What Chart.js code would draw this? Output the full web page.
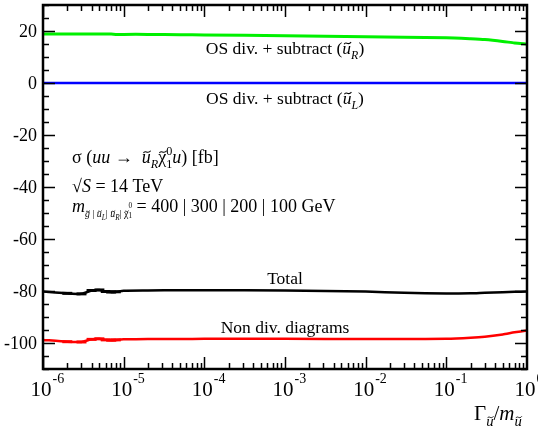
<!DOCTYPE html>
<html>
<head>
<meta charset="utf-8">
<script src="https://cdn.jsdelivr.net/npm/chart.js@4"></script>
<style>
  html, body { margin: 0; padding: 0; background: #fff; }
  #wrap { width: 538px; height: 429px; }
</style>
</head>
<body>
<div id="wrap"><canvas id="c"></canvas></div>
<script>
// Gamma / m values (x) and cross sections in fb
const widths = [1e-6, 2e-6, 3e-6, 4e-6, 5e-6, 6e-6, 7e-6, 8e-6, 1e-5, 2e-5, 5e-5, 1e-4, 1e-3, 1e-2, 3e-2, 0.1, 0.2, 0.3, 0.5, 0.7, 1]
const osSubR = [18.8, 18.8, 18.8, 18.8, 18.8, 18.8, 18.8, 18.7, 18.7, 18.7, 18.6, 18.5, 18.2, 17.8, 17.6, 17.4, 17.0, 16.7, 16.0, 15.4, 15.0]
const osSubL = [0, 0, 0, 0, 0, 0, 0, 0, 0, 0, 0, 0, 0, 0, 0, 0, 0, 0, 0, 0, 0]
const total = [-80.2, -80.9, -81.1, -79.8, -79.6, -80.2, -80.4, -80.3, -79.9, -79.8, -79.7, -79.7, -79.8, -80.2, -80.7, -81.0, -80.9, -80.7, -80.5, -80.3, -80.2]
const nonDiv = [-98.8, -99.5, -99.6, -98.6, -98.4, -98.8, -98.9, -98.8, -98.6, -98.5, -98.5, -98.4, -98.4, -98.5, -98.5, -98.4, -98.0, -97.6, -96.7, -95.9, -95.2]
// scan points that carry error bars
const errMark = [0, 5, 5, 5, 5, 5, 5, 5, 0, 0, 0, 0, 0, 0, 0, 0, 0, 0, 0, 0, 0]

const yTicks = [-100, -80, -60, -40, -20, 0, 20]
const xExponents = [-6, -5, -4, -3, -2, -1, 0]

const SERIF = '"Liberation Serif", "DejaVu Serif", serif'

const toPts = ys => widths.map((w, i) => ({ x: w, y: ys[i] }))

// draw a run of text pieces: s = style flags (i italic, b sub, p sup), k = keep x, tl = tilde on top
function rich(ctx, x, y, parts, size, align) {
  const sizeFor = p => (p.s && (p.s.includes('b') || p.s.includes('p'))) ? size * (p.z || 0.68) : size
  const fontFor = p => (p.s && p.s.includes('i') ? 'italic ' : '') + sizeFor(p).toFixed(1) + 'px ' + SERIF
  let w = 0
  parts.forEach(p => { ctx.font = fontFor(p); if (!p.k) w += ctx.measureText(p.t).width })
  let cx = align === 'center' ? x - w / 2 : x
  ctx.textAlign = 'left'
  ctx.textBaseline = 'alphabetic'
  parts.forEach(p => {
    ctx.font = fontFor(p)
    let dy = p.dy || 0
    if (p.s && p.s.includes('b')) dy += size * 0.3
    if (p.s && p.s.includes('p')) dy -= size * 0.42
    ctx.fillText(p.t, cx, y + dy)
    const tw = ctx.measureText(p.t).width
    if (p.tl) {
      const sz = sizeFor(p)
      const tx = cx + tw * 0.5 + sz * 0.05, ty = y + dy - sz * 0.62
      const hw = sz * 0.2, hh = sz * 0.06
      ctx.save()
      ctx.lineWidth = Math.max(0.8, sz * 0.06)
      ctx.strokeStyle = ctx.fillStyle
      ctx.beginPath()
      ctx.moveTo(tx - hw, ty + hh)
      ctx.bezierCurveTo(tx - hw * 0.5, ty - hh * 2.5, tx + hw * 0.1, ty + hh * 3, tx + hw, ty - hh)
      ctx.stroke()
      ctx.restore()
    }
    if (!p.k) cx += tw
  })
}

const framePlugin = {
  id: 'frame',
  afterDraw(chart) {
    const ctx = chart.ctx
    const a = chart.chartArea
    const xs = chart.scales.x, ys = chart.scales.y
    ctx.save()
    ctx.strokeStyle = '#000'
    ctx.fillStyle = '#000'

    // ticks on all four sides, pointing inwards
    ctx.lineWidth = 1.5
    ctx.beginPath()
    for (let v = -110; v <= 30; v += 5) {
      const py = Math.round(ys.getPixelForValue(v)) + 0.5
      const len = v % 20 === 0 ? 12 : 6
      ctx.moveTo(a.left, py); ctx.lineTo(a.left + len, py)
      ctx.moveTo(a.right, py); ctx.lineTo(a.right - len, py)
    }
    for (let e = -6; e < 0; e++) {
      for (let m = 1; m <= 9; m++) {
        const px = Math.round(xs.getPixelForValue(m * Math.pow(10, e))) + 0.5
        const len = m === 1 ? 12 : 6
        ctx.moveTo(px, a.bottom); ctx.lineTo(px, a.bottom - len)
        ctx.moveTo(px, a.top); ctx.lineTo(px, a.top + len)
      }
    }
    ctx.stroke()

    ctx.lineWidth = 2.5
    ctx.strokeRect(a.left, a.top, a.right - a.left, a.bottom - a.top)

    // y tick labels
    ctx.font = '18px ' + SERIF
    ctx.textAlign = 'right'
    ctx.textBaseline = 'middle'
    yTicks.forEach(v => ctx.fillText(String(v), a.left - 6, ys.getPixelForValue(v) + 1))

    // x tick labels 10^n
    xExponents.forEach(e => {
      const px = xs.getPixelForValue(Math.pow(10, e))
      ctx.font = '21px ' + SERIF
      ctx.textAlign = 'left'
      ctx.textBaseline = 'alphabetic'
      const w = ctx.measureText('10').width
      ctx.fillText('10', px - w / 2 - 2, 396)
      ctx.font = '14px ' + SERIF
      ctx.fillText(String(e), px + w / 2 - 1, 383)
    })

    // axis title
    rich(ctx, 474, 420, [
      { t: 'Γ' },
      { t: 'u', s: 'ib', z: 0.7, tl: true },
      { t: '/' },
      { t: 'm', s: 'i' },
      { t: 'u', s: 'ib', z: 0.7, tl: true }
    ], 21, 'left')

    // curve labels
    const lx = 285
    rich(ctx, lx, 54, [{ t: 'OS div. + subtract (' }, { t: 'u', s: 'i', tl: true }, { t: 'R', s: 'ib' }, { t: ')' }], 17.5, 'center')
    rich(ctx, lx, 104, [{ t: 'OS div. + subtract (' }, { t: 'u', s: 'i', tl: true }, { t: 'L', s: 'ib' }, { t: ')' }], 17.5, 'center')
    rich(ctx, lx, 284, [{ t: 'Total' }], 17.5, 'center')
    rich(ctx, lx, 333, [{ t: 'Non div. diagrams' }], 17.5, 'center')

    // process annotation
    rich(ctx, 72, 163, [
      { t: 'σ (' }, { t: 'uu', s: 'i' }, { t: ' →  ' },
      { t: 'u', s: 'i', tl: true }, { t: 'R', s: 'ib' }, { t: 'χ', tl: true },
      { t: '0', s: 'p', k: true }, { t: '1', s: 'b' },
      { t: 'u', s: 'i' }, { t: ') [fb]' }
    ], 18, 'left')
    rich(ctx, 72, 192, [{ t: '√' }, { t: 'S', s: 'i' }, { t: ' = 14 TeV' }], 18, 'left')
    rich(ctx, 72, 212, [
      { t: 'm', s: 'i' },
      { t: 'g', s: 'ib', z: 0.55, tl: true },
      { t: ' | ', s: 'b', z: 0.55 },
      { t: 'u', s: 'ib', z: 0.55, tl: true },
      { t: 'L', s: 'ib', z: 0.4, dy: 3 },
      { t: '| ', s: 'b', z: 0.55 },
      { t: 'u', s: 'ib', z: 0.55, tl: true },
      { t: 'R', s: 'ib', z: 0.4, dy: 3 },
      { t: '| ', s: 'b', z: 0.55 },
      { t: 'χ', s: 'b', z: 0.55, tl: true },
      { t: '0', s: 'b', z: 0.4, dy: -9, k: true },
      { t: '1', s: 'b', z: 0.4, dy: 1 },
      { t: ' = 400 | 300 | 200 | 100 GeV' }
    ], 18, 'left')

    ctx.restore()
  }
}

const line = (data, color, width, marks) => ({
  data: toPts(data),
  borderColor: color,
  backgroundColor: color,
  borderWidth: width,
  pointStyle: 'line',
  pointRadius: marks || 0,
  pointBorderWidth: 3,
  pointBorderColor: color,
  pointHoverRadius: 0,
  tension: 0.2,
  fill: false
})

new Chart(document.getElementById('c'), {
  type: 'line',
  data: {
    datasets: [
      line(osSubR, '#00f000', 3),
      line(osSubL, '#0000ff', 2.5),
      line(total, '#000000', 2.5, errMark),
      line(nonDiv, '#ff0000', 2.5, errMark)
    ]
  },
  options: {
    animation: false,
    responsive: true,
    maintainAspectRatio: false,
    layout: { padding: { left: 43, top: 5, right: 11, bottom: 60 } },
    plugins: { legend: { display: false }, tooltip: { enabled: false } },
    scales: {
      x: { type: 'logarithmic', min: 1e-6, max: 1, display: false },
      y: { type: 'linear', min: -110, max: 30, display: false }
    }
  },
  plugins: [framePlugin]
})
</script>
</body>
</html>
